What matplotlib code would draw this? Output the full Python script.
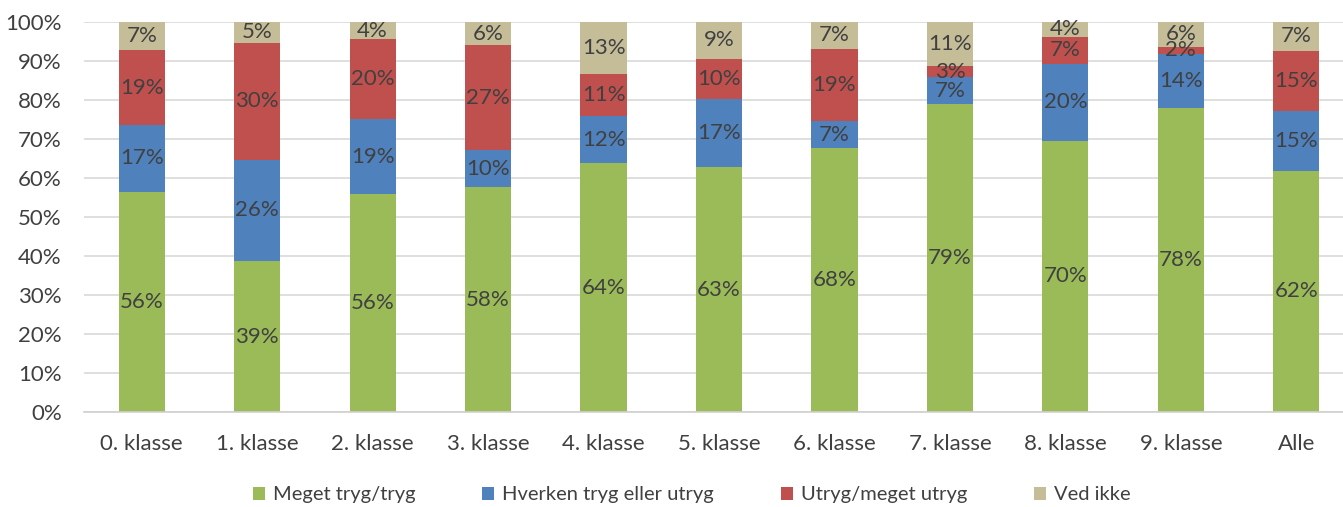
import matplotlib.pyplot as plt
import numpy as np

# Andel elever efter klassetrin og svar (procent)
classes = ['0. klasse', '1. klasse', '2. klasse', '3. klasse', '4. klasse',
           '5. klasse', '6. klasse', '7. klasse', '8. klasse', '9. klasse', 'Alle']
series_names = ['Meget tryg/tryg', 'Hverken tryg eller utryg',
                'Utryg/meget utryg', 'Ved ikke']
meget_tryg = [56.4, 38.7, 55.9, 57.6, 63.8, 62.8, 67.6, 78.9, 69.6, 77.9, 61.9]
hverken = [17.2, 26.0, 19.2, 9.6, 12.1, 17.4, 7.0, 6.9, 19.6, 13.9, 15.4]
utryg = [19.1, 30.0, 20.5, 26.8, 10.7, 10.4, 18.6, 2.9, 7.0, 1.9, 15.3]
ved_ikke = [7.3, 5.3, 4.4, 6.0, 13.4, 9.4, 6.8, 11.3, 3.8, 6.3, 7.4]

colors = ['#9BBB59', '#4F81BD', '#C0504D', '#C4BD97']
text_color = '#404040'

plt.rcParams['font.family'] = ['Lato', 'DejaVu Sans']


def main() -> None:
    fig = plt.figure(figsize=(13.43, 5.07), dpi=100)
    ax = fig.add_axes([84 / 1343, 95 / 507, 1270 / 1343, 390 / 507])

    x = np.arange(len(classes))
    bottom = np.zeros(len(classes))
    for name, vals, col in zip(series_names, [meget_tryg, hverken, utryg, ved_ikke], colors):
        vals = np.array(vals)
        ax.bar(x, vals, 0.4, bottom=bottom, color=col, label=name, zorder=2)
        for xi, b, v in zip(x, bottom, vals):
            ax.text(xi, b + v / 2, f"{v:.0f}%", ha='center', va='center',
                    fontsize=16, color=text_color, zorder=3)
        bottom += vals

    ax.set_xlim(-0.5, len(classes) - 0.5)
    ax.set_ylim(0, 100)
    ax.set_yticks(np.arange(0, 101, 10))
    ax.set_yticklabels([f"{t}%" for t in range(0, 101, 10)])
    ax.set_xticks(x)
    ax.set_xticklabels(classes)
    ax.tick_params(axis='both', length=0, labelsize=16, labelcolor=text_color)
    ax.tick_params(axis='x', pad=16)
    ax.tick_params(axis='y', pad=16)
    ax.grid(axis='y', color='#D9D9D9', linewidth=1.2, zorder=0)
    for side in ['top', 'right', 'left']:
        ax.spines[side].set_visible(False)
    ax.spines['bottom'].set_color('#D0D0D0')
    ax.spines['bottom'].set_linewidth(1.2)

    fig.legend(loc='center', bbox_to_anchor=(0.515, 0.024), ncol=4, frameon=False,
               fontsize=14.5, labelcolor=text_color, handlelength=0.6, handleheight=0.6,
               handletextpad=0.4, columnspacing=3.3)

    fig.savefig('out.png', dpi=100)


if __name__ == '__main__':
    main()
